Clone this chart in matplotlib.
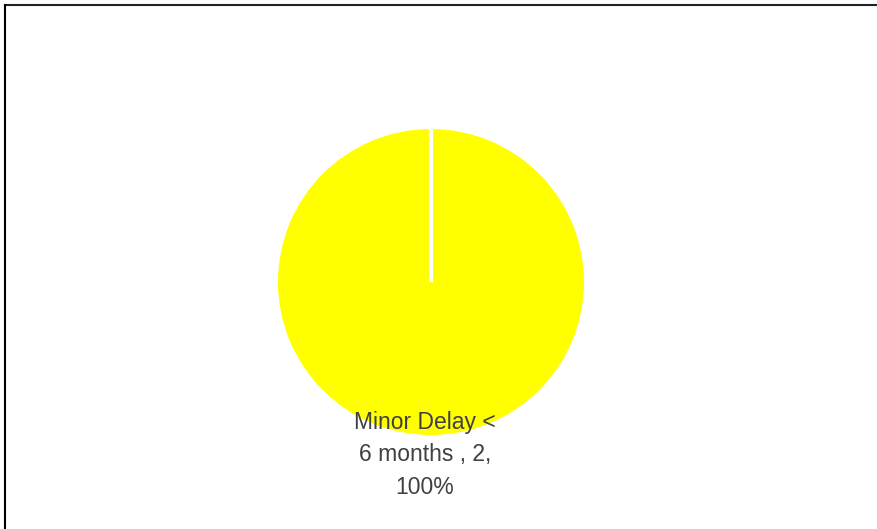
import numpy as np
import matplotlib
matplotlib.use("Agg")
import matplotlib.pyplot as plt
from matplotlib.lines import Line2D

categories = ["Minor Delay < 6 months"]
counts = [2]
colors = ["#ffff00"]

total = sum(counts)
labels = [f"Minor Delay <\n6 months , {c},\n{c / total * 100:.0f}%" for c in counts]

fig = plt.figure(figsize=(8.77, 5.29), dpi=100)
W, H = 877, 529
cx, cy, r = 431, 282, 153
ax = fig.add_axes([(cx - r) / W, (H - cy - r) / H, 2 * r / W, 2 * r / H])

wedges, texts = ax.pie(counts, labels=labels, colors=colors, startangle=90,
                       counterclock=False, labeldistance=1.13,
                       wedgeprops=dict(edgecolor="none"))
for t in texts:
    t.set_family(["Liberation Sans", "DejaVu Sans"])
    t.set_fontsize(16.5)
    t.set_color("#404040")
    t.set_ha("center")
    t.set_va("center")
    t.set_linespacing(1.52)
    x, y = t.get_position()
    t.set_position((x - 0.04, y))

# slice boundary: a full pie still shows its start edge as a white line
for w in wedges:
    ang = np.deg2rad(w.theta1)
    x0, y0 = w.center
    ax.plot([x0, x0 + w.r * np.cos(ang)], [y0, y0 + w.r * np.sin(ang)],
            color="white", lw=3, solid_capstyle="butt")

ax.set_xlim(-1, 1)
ax.set_ylim(-1, 1)
ax.set_aspect("equal")
ax.axis("off")

# partial frame around the chart (top and left edges visible)
fig.add_artist(Line2D([5 / W, 1], [1 - 5 / H, 1 - 5 / H], color="#222222", lw=1.5))
fig.add_artist(Line2D([5 / W, 5 / W], [0, 1 - 5 / H], color="black", lw=1.5))

fig.savefig("out.png", dpi=100)
